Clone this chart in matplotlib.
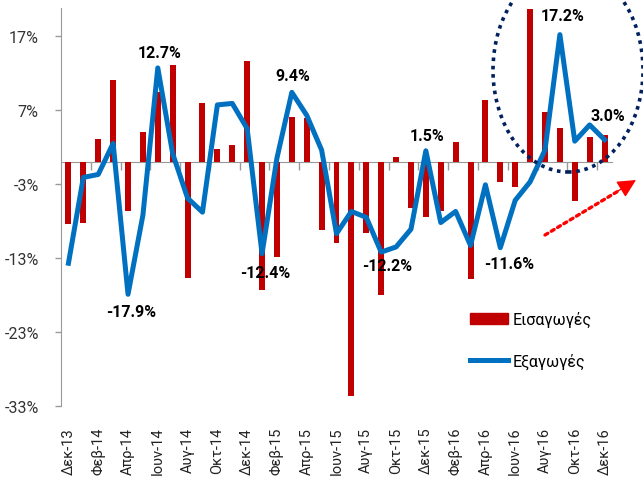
import numpy as np
import matplotlib
matplotlib.use('Agg')
import matplotlib.pyplot as plt
from matplotlib.patches import Ellipse, Patch
from matplotlib.lines import Line2D

plt.rcParams['font.family'] = ['Roboto', 'DejaVu Sans']

# Monthly change (%), Dec-13 .. Dec-16
months = ['Δεκ-13', 'Ιαν-14', 'Φεβ-14', 'Μαρ-14', 'Απρ-14', 'Μαϊ-14', 'Ιουν-14', 'Ιουλ-14',
          'Αυγ-14', 'Σεπ-14', 'Οκτ-14', 'Νοε-14', 'Δεκ-14', 'Ιαν-15', 'Φεβ-15', 'Μαρ-15',
          'Απρ-15', 'Μαϊ-15', 'Ιουν-15', 'Ιουλ-15', 'Αυγ-15', 'Σεπ-15', 'Οκτ-15', 'Νοε-15',
          'Δεκ-15', 'Ιαν-16', 'Φεβ-16', 'Μαρ-16', 'Απρ-16', 'Μαϊ-16', 'Ιουν-16', 'Ιουλ-16',
          'Αυγ-16', 'Σεπ-16', 'Οκτ-16', 'Νοε-16', 'Δεκ-16']
imports = [-8.4, -8.3, 3.1, 11.1, -6.7, 4.1, 9.5, 13.1, -15.7, 7.9, 1.8, 2.3, 13.7,
           -17.3, -12.8, 6.0, 5.9, -9.2, -10.9, -31.7, -9.6, -18.0, 0.6, -6.2, -7.5,
           -6.6, 2.7, -15.9, 8.4, -2.7, -3.4, 20.7, 6.8, 4.6, -5.3, 3.3, 3.7]
exports = [-13.7, -2.1, -1.7, 2.5, -17.9, -7.2, 12.7, 1.1, -4.9, -6.8, 7.7, 7.9, 4.5,
           -12.4, 0.5, 9.4, 6.3, 1.6, -9.7, -6.7, -7.5, -12.2, -11.5, -9.1, 1.5, -8.2,
           -6.7, -11.3, -3.1, -11.6, -5.2, -2.7, 1.6, 17.2, 2.8, 5.0, 3.0]
yticks = [17, 7, -3, -13, -23, -33]

# labelled points: index -> (dx, dy) offset in pixels
labelled = {4: (3, -17), 6: (2, 15), 13: (3, -19), 15: (1, 17), 21: (6, -13),
            24: (1, 15), 29: (9, -16), 33: (3, 19), 36: (3, 24)}

red = '#C00000'
blue = '#0070C0'

fig = plt.figure(figsize=(6.43, 4.81), dpi=100)
ax = fig.add_axes([61/643, 1 - 407/481, (612 - 61)/643, (407 - 9)/481])

x = np.arange(len(months))
ax.bar(x, imports, width=0.4, color=red, zorder=2)
ax.plot(x, exports, color=blue, lw=3.6, solid_joinstyle='round', zorder=3)

px = 0.72  # pixels -> points
for i, (dx, dy) in labelled.items():
    ax.annotate(f'{exports[i]:.1f}%', (x[i], exports[i]), xytext=(dx*px, dy*px),
                textcoords='offset points', ha='center', va='center',
                fontsize=11.5, fontweight='bold', zorder=4)

ax.set_xlim(-0.5, len(months) - 0.5)
ax.set_ylim(-33, 20.8)
ax.set_yticks(yticks)
ax.set_yticklabels([f'{v}%' for v in yticks])
ax.tick_params(axis='y', length=4, width=1, color='#999999', labelsize=11.5,
               pad=12, labelcolor='#333333')

for s in ['top', 'right']:
    ax.spines[s].set_visible(False)
ax.spines['left'].set_color('#999999')
ax.spines['bottom'].set_color('#999999')
ax.spines['bottom'].set_position(('data', 0))
ax.spines['bottom'].set_zorder(1)

# small marks on the zero line every two months
ax.set_xticks(np.arange(1.5, len(months) - 1, 2), minor=True)
ax.set_xticks([])
ax.tick_params(axis='x', which='minor', length=6, width=1, color='#999999', direction='out')

# month labels at the bottom of the plot
sec = ax.secondary_xaxis('bottom')
sec.set_xticks(x[::2])
sec.set_xticklabels(months[::2], rotation=90, fontsize=10.5, color='#222222')
sec.tick_params(length=0, pad=15)
sec.spines['bottom'].set_visible(False)

handles = [Patch(color=red), Line2D([], [], color=blue, lw=3.6)]
fig.legend(handles, ['Εισαγωγές', 'Εξαγωγές'], loc='upper left',
           bbox_to_anchor=(470/643, 1 - 312/481), frameon=False, fontsize=11.5,
           handlelength=2.4, handleheight=0.7, handletextpad=0.3, labelspacing=1.6,
           borderpad=0, borderaxespad=0)

# dotted ring round the last months and the red arrow
ring = Ellipse((568/643, 1 - 71/481), 150/643, 204/481, transform=fig.transFigure,
               fill=False, edgecolor='#002060', lw=2.6, linestyle=(0, (1, 1.3)), zorder=5)
fig.add_artist(ring)
ax.annotate('', xy=(620/643, 1 - 191/481), xytext=(545/643, 1 - 236/481),
            xycoords='figure fraction', textcoords='figure fraction',
            arrowprops=dict(arrowstyle='-', color='#FF0000', lw=2.4,
                            linestyle=(0, (1, 1.2)), shrinkA=0, shrinkB=0))
ax.annotate('', xy=(636/643, 1 - 181/481), xytext=(618/643, 1 - 192/481),
            xycoords='figure fraction', textcoords='figure fraction',
            arrowprops=dict(arrowstyle='-|>', color='#FF0000', lw=1,
                            mutation_scale=28, shrinkA=0, shrinkB=0))

fig.savefig('out.png', dpi=100)
